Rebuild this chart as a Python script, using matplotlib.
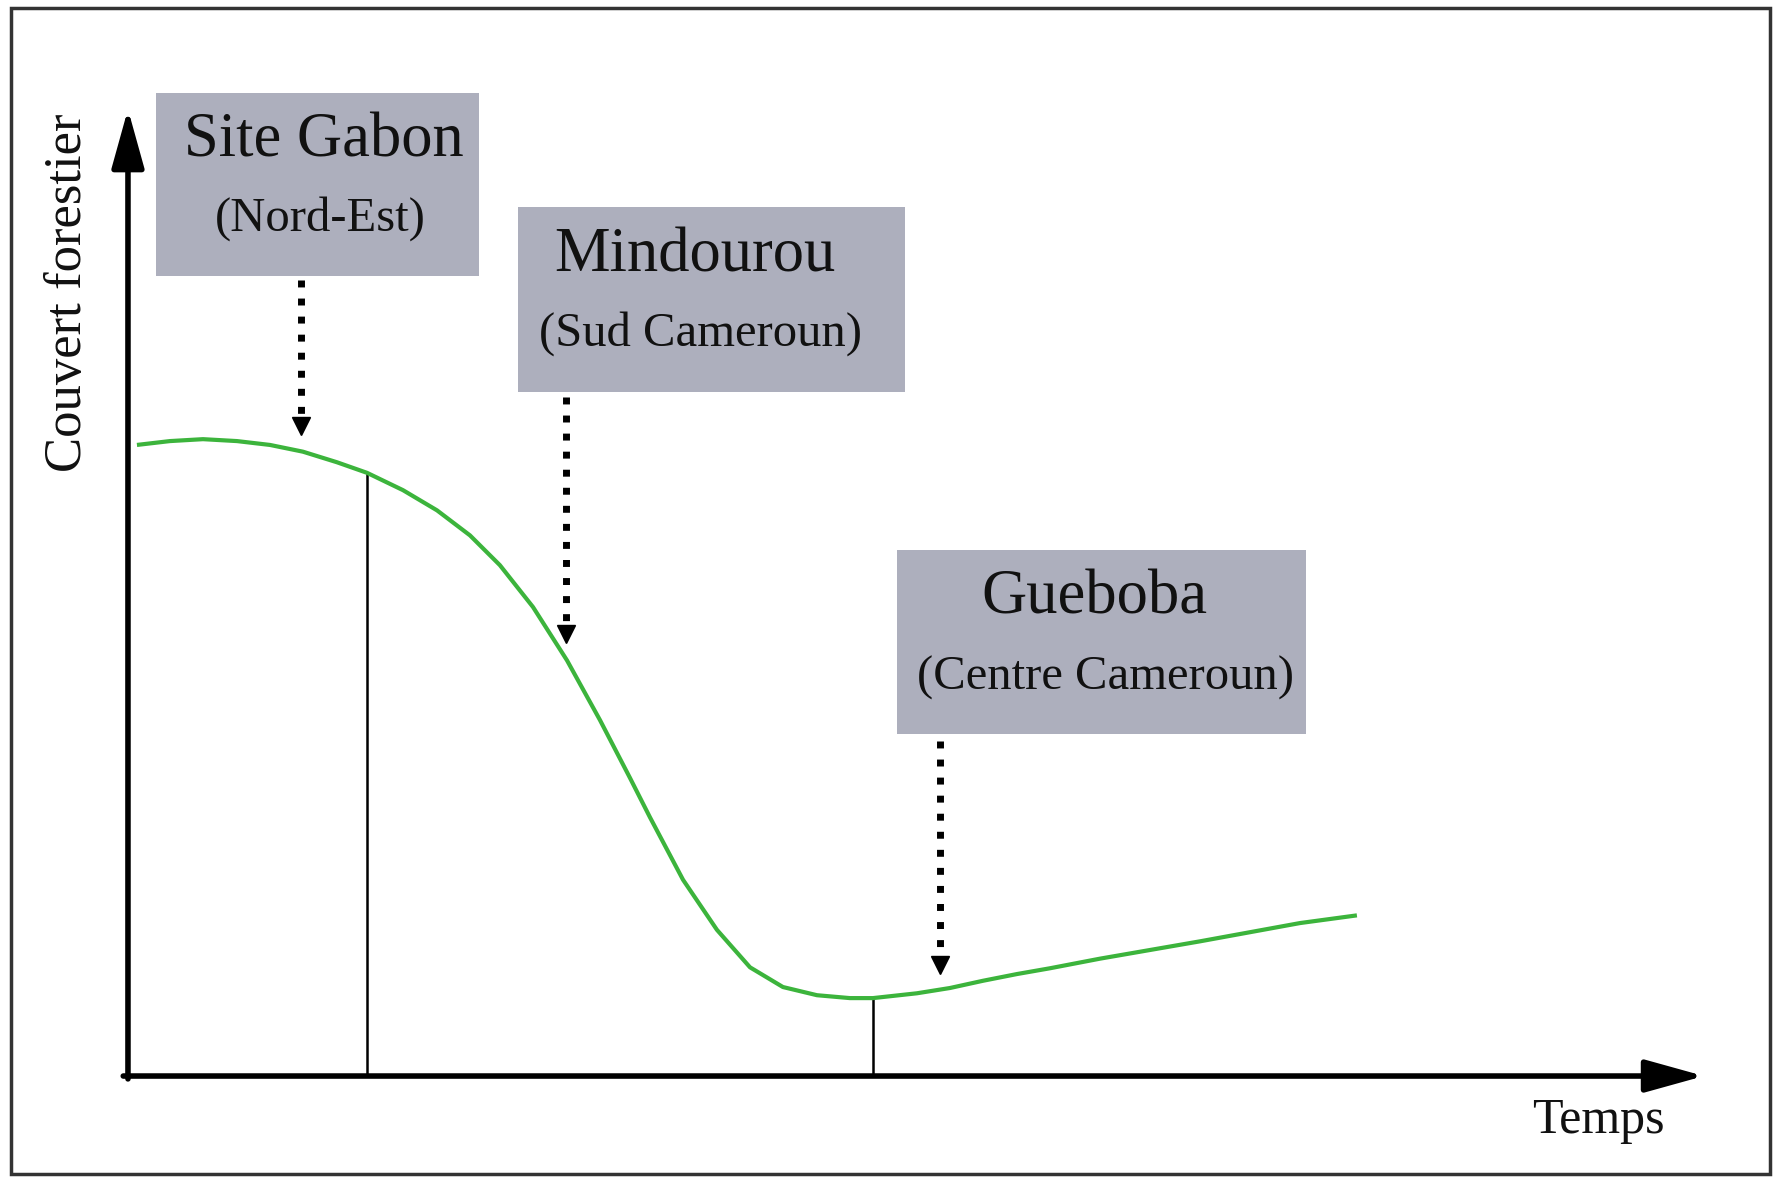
import numpy as np
import matplotlib.pyplot as plt
from matplotlib.patches import Rectangle

# Courbe schématique : couvert forestier au cours du temps
temps = [0.57, 2.66, 4.76, 6.92, 9.01, 11.10, 13.26, 15.17, 17.45, 19.61,
         21.70, 23.60, 25.70, 27.86, 29.95, 31.85, 33.12, 35.22, 37.37, 39.47,
         41.56, 43.72, 45.81, 47.27, 50.06, 52.16, 54.25, 56.41, 58.50, 61.68,
         68.02, 74.37, 77.98]
couvert = [65.6, 66.0, 66.2, 66.0, 65.6, 64.9, 63.8, 62.7, 60.9, 58.8,
           56.2, 53.1, 48.75, 43.2, 37.0, 31.0, 26.9, 20.4, 15.2, 11.3,
           9.25, 8.4, 8.1, 8.1, 8.6, 9.15, 9.9, 10.6, 11.2, 12.2,
           14.0, 15.9, 16.7]

# Sites d'étude
sites = ["Site Gabon", "Mindourou", "Gueboba"]
regions = ["(Nord-Est)", "(Sud Cameroun)", "(Centre Cameroun)"]
sites_temps = [11.0, 27.8, 51.5]

# Limites verticales entre les phases
limites = [15.17, 47.27]

# Mise en page des boîtes (x0, x1, y0, y1) et des textes
boites = [(1.8, 22.3, 83.2, 102.2), (24.75, 49.3, 71.1, 90.3), (48.8, 74.75, 35.55, 54.7)]
titres_xy = [(12.4, 97.1), (36.0, 85.2), (61.3, 49.6)]
regions_xy = [(12.2, 89.1), (36.3, 77.2), (62.0, 41.4)]
fleche_haut = [83.2, 71.1, 35.3]

serif = "Liberation Serif"
gris = "#adafbd"
vert = "#3cb43c"
noir = "#111111"

fig = plt.figure(figsize=(17.81, 11.78), dpi=100)
ax = fig.add_axes([0, 0, 1, 1])
ax.set_xlim(-8.12, 104.89)
ax.set_ylim(-10.6, 111.85)
ax.axis("off")

# Cadre
fig.patches.append(Rectangle((0.006, 0.003), 0.988, 0.99, transform=fig.transFigure,
                             fill=False, edgecolor="#333333", lw=2.5))

# Axes avec flèches
style = "-|>,head_length=0.9,head_width=0.25"
ax.annotate("", xy=(0, 100.5), xytext=(0, -0.3),
            arrowprops=dict(arrowstyle=style, lw=4, color="black",
                            mutation_scale=40, shrinkA=0, shrinkB=0))
ax.annotate("", xy=(100, 0), xytext=(-0.3, 0),
            arrowprops=dict(arrowstyle=style, lw=4, color="black",
                            mutation_scale=40, shrinkA=0, shrinkB=0))

ax.text(-3.8, 81.4, "Couvert forestier", rotation=90, ha="center", va="center",
        fontsize=38, family=serif, color=noir)
ax.text(93.3, -4.7, "Temps", ha="center", va="center", fontsize=36, family=serif, color=noir)

# Courbe
ax.plot(temps, couvert, color=vert, lw=3, solid_capstyle="butt",
        solid_joinstyle="round", zorder=3)

# Lignes verticales
for t in limites:
    h = np.interp(t, temps, couvert)
    ax.plot([t, t], [0, h], color="black", lw=1.8, zorder=2)

# Boîtes, textes et flèches pointillées
for i in range(len(sites)):
    x0, x1, y0, y1 = boites[i]
    ax.add_patch(Rectangle((x0, y0), x1 - x0, y1 - y0, facecolor=gris,
                           edgecolor="none", clip_on=False, zorder=4))
    ax.text(*titres_xy[i], sites[i], ha="center", va="center", fontsize=45,
            family=serif, color=noir, zorder=5)
    ax.text(*regions_xy[i], regions[i], ha="center", va="center", fontsize=35,
            family=serif, color=noir, zorder=5)

    t = sites_temps[i]
    bas = np.interp(t, temps, couvert) + 1.3
    ax.plot([t, t], [fleche_haut[i] - 0.5, bas + 2.2], color="black", lw=5,
            ls=(0, (1, 1.6)), solid_capstyle="butt", dash_capstyle="butt", zorder=3)
    ax.plot([t], [bas + 1.3], marker="v", color="black", markersize=13, zorder=3)

fig.savefig("out.png", dpi=100)
